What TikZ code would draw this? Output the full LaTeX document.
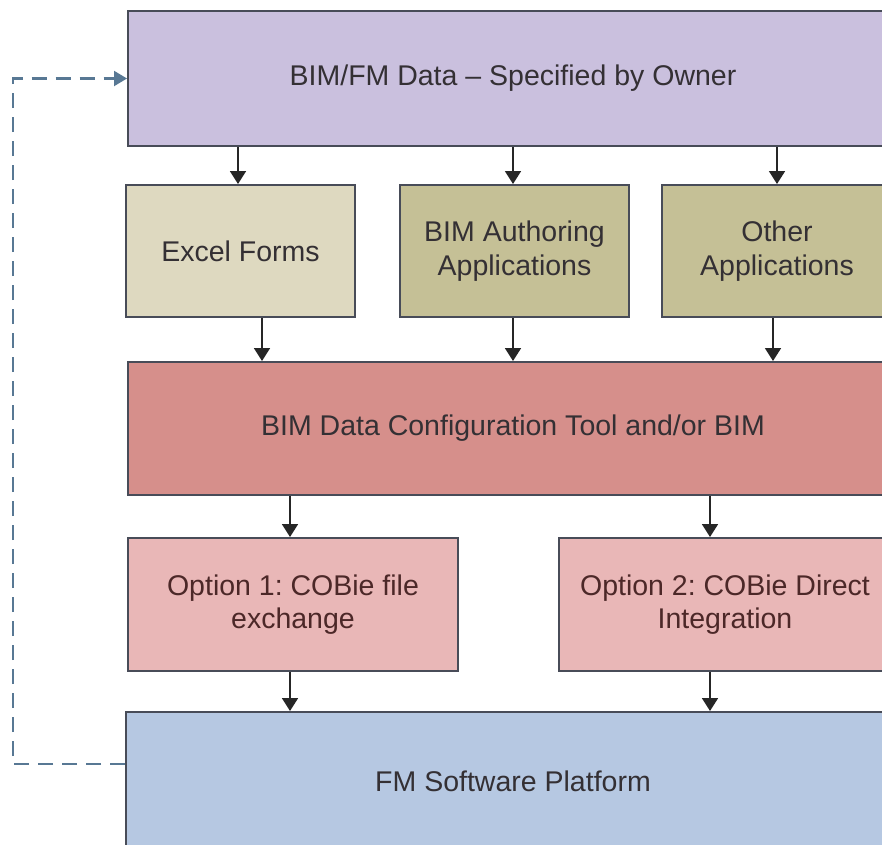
\documentclass[tikz,border=0pt]{standalone}
\usepackage{fontspec}
\setmainfont{Liberation Sans}
\usetikzlibrary{arrows.meta}
\frenchspacing

\definecolor{boxline}{RGB}{72,76,88}
\definecolor{txt}{RGB}{52,48,52}
\definecolor{opttxt}{RGB}{76,40,40}
\definecolor{ownerfill}{RGB}{202,192,222}
\definecolor{excelfill}{RGB}{222,217,192}
\definecolor{appfill}{RGB}{197,192,150}
\definecolor{configfill}{RGB}{214,143,139}
\definecolor{optfill}{RGB}{233,183,183}
\definecolor{fmfill}{RGB}{182,200,226}
\definecolor{loopcol}{RGB}{88,120,148}

\begin{document}
\begin{tikzpicture}[x=1pt,y=-1pt,
  box/.style={draw=boxline, line width=2pt, rectangle, inner sep=0pt,
    align=center, font=\fontsize{28.5}{33.5}\selectfont, text=txt},
  flow/.style={draw=black!85, line width=1.8pt,
    -{Triangle[width=16pt,length=13pt]}},
  loop/.style={draw=loopcol, line width=2.2pt, dash pattern=on 15pt off 9pt,
    -{Triangle[width=15pt,length=13pt]}},
]
\useasboundingbox (0,0) rectangle (882,844);
\clip (0,0) rectangle (882,844);

% boxes
\node[box, fill=ownerfill, minimum width=770pt, minimum height=135pt]
  (owner) at (513,78.5) {BIM/FM Data -- Specified by Owner};
\node[box, fill=excelfill, minimum width=229pt, minimum height=132pt]
  (excel) at (240.5,251) {Excel Forms};
\node[box, fill=appfill, minimum width=229pt, minimum height=132pt]
  (authoring) at (514.5,251) {BIM Authoring\\Applications};
\node[box, fill=appfill, minimum width=230pt, minimum height=132pt]
  (other) at (777,251) {Other\\Applications};
\node[box, fill=configfill, minimum width=770pt, minimum height=133pt]
  (config) at (513,428.5) {BIM Data Configuration Tool and/or BIM};
\node[box, fill=optfill, minimum width=330pt, minimum height=133pt, text=opttxt]
  (opt1) at (293,604.5) {Option 1: COBie file\\exchange};
\node[box, fill=optfill, minimum width=332pt, minimum height=133pt, text=opttxt]
  (opt2) at (725,604.5) {Option 2: COBie Direct\\Integration};
\node[box, fill=fmfill, minimum width=774pt, minimum height=138pt]
  (fm) at (513,781) {FM Software Platform};

% flow arrows
\draw[flow] ([xshift=-2.5pt]excel.north |- owner.south) -- ([xshift=-2.5pt]excel.north);
\draw[flow] ([xshift=-1.5pt]authoring.north |- owner.south) -- ([xshift=-1.5pt]authoring.north);
\draw[flow] (other.north |- owner.south) -- (other.north);

\draw[flow] ([xshift=21.5pt]excel.south) -- ([xshift=21.5pt]excel.south |- config.north);
\draw[flow] ([xshift=-1.5pt]authoring.south) -- ([xshift=-1.5pt]authoring.south |- config.north);
\draw[flow] ([xshift=-4pt]other.south) -- ([xshift=-4pt]other.south |- config.north);

\draw[flow] ([xshift=-3pt]opt1.north |- config.south) -- ([xshift=-3pt]opt1.north);
\draw[flow] ([xshift=-15pt]opt2.north |- config.south) -- ([xshift=-15pt]opt2.north);

\draw[flow] ([xshift=-3pt]opt1.south) -- ([xshift=-3pt]opt1.south |- fm.north);
\draw[flow] ([xshift=-15pt]opt2.south) -- ([xshift=-15pt]opt2.south |- fm.north);

% feedback loop
\coordinate (bend) at (13,400);
\draw[loop] ([yshift=17pt]fm.west) -- ([yshift=17pt]fm.west -| bend) |- (owner.west);
\end{tikzpicture}
\end{document}
